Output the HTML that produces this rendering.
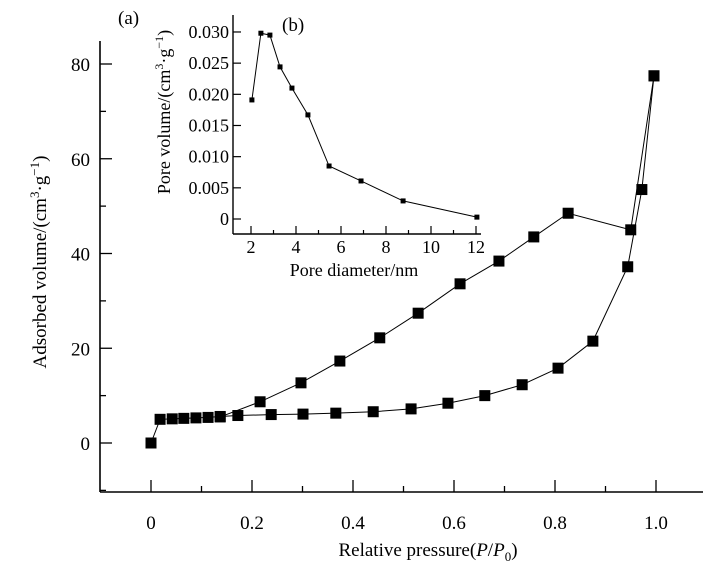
<!DOCTYPE html>
<html><head><meta charset="utf-8"><style>
body{margin:0;background:#fff}
svg{display:block;font-family:"Liberation Serif",serif}
</style></head><body>
<svg id="c" width="713" height="569"></svg>
<script>
const adsP=[0,0.018,0.042,0.065,0.089,0.113,0.137,0.172,0.238,0.301,0.366,0.44,0.515,0.588,0.661,0.735,0.806,0.875,0.944,0.972,0.996];
const adsV=[0,5.0,5.1,5.2,5.3,5.4,5.6,5.8,6.0,6.1,6.3,6.6,7.2,8.4,10,12.3,15.8,21.5,37.2,53.5,77.5];
const desP=[0.996,0.95,0.826,0.758,0.689,0.612,0.529,0.453,0.374,0.297,0.216,0.137];
const desV=[77.5,45.0,48.5,43.5,38.4,33.6,27.4,22.2,17.3,12.7,8.7,5.5];
const xTicks=[0,0.2,0.4,0.6,0.8,1.0];
const xTickLabels=["0","0.2","0.4","0.6","0.8","1.0"];
const yTicks=[0,20,40,60,80];
const poreD=[2.04,2.44,2.84,3.29,3.82,4.53,5.47,6.89,8.76,12.04];
const poreV=[0.0191,0.0298,0.0295,0.0244,0.0210,0.0167,0.0085,0.0061,0.0029,0.0003];
const ixTicks=[2,4,6,8,10,12];
const iyTicks=[0,0.005,0.010,0.015,0.020,0.025,0.030];
const iyTickLabels=["0","0.005","0.010","0.015","0.020","0.025","0.030"];

const svg=document.getElementById('c');
const NS='http://www.w3.org/2000/svg';
function mk(tag,attrs,parent){const e=document.createElementNS(NS,tag);for(const k in attrs)e.setAttribute(k,attrs[k]);(parent||svg).appendChild(e);return e;}
const X=p=>151+p*505, Y=v=>443-v*4.7375;
const IX=d=>251+(d-2)*22.5, IY=v=>219-v/0.005*31.17;

// main axes
let a=mk('line',{x1:100,y1:41,x2:100,y2:492,stroke:'#000','stroke-width':1.6});

a=mk('line',{x1:100,y1:492,x2:703,y2:492,stroke:'#000','stroke-width':1.6});

for(let i=0;i<=11;i++){const p=i*0.1-0.1;const x=X(p);if(x<101)continue;mk('line',{x1:x,y1:492,x2:x,y2:i%2==1?480:486,stroke:'#000','stroke-width':1.3});}
xTicks.forEach((t,i)=>{const e=mk('text',{x:X(t),y:529,'text-anchor':'middle','font-size':19});e.textContent=xTickLabels[i];
});
for(let v=-10;v<=80;v+=10){const y=Y(v);mk('line',{x1:100,y1:y,x2:v%20==0?112:106,y2:y,stroke:'#000','stroke-width':1.3});}
yTicks.forEach(t=>{const e=mk('text',{x:90,y:Y(t)+7,'text-anchor':'end','font-size':19});e.textContent=t;
});
let t=mk('text',{x:428,y:556,'text-anchor':'middle','font-size':19});
t.innerHTML='Relative pressure(<tspan font-style="italic">P</tspan>/<tspan font-style="italic">P</tspan><tspan font-size="13" dy="5">0</tspan><tspan dy="-5">)</tspan>';

t=mk('text',{transform:'translate(46,262) rotate(-90)','text-anchor':'middle','font-size':19});
t.innerHTML='Adsorbed volume/(cm<tspan font-size="13" dy="-7">3</tspan><tspan dy="7">·g</tspan><tspan font-size="13" dy="-7">−1</tspan><tspan dy="7">)</tspan>';

t=mk('text',{x:118,y:24,'font-size':19});t.textContent='(a)';


function series(P,V,fx,fy,size,name){
  const l=mk('polyline',{points:P.map((p,i)=>fx(p)+','+fy(V[i])).join(' '),fill:'none',stroke:'#000','stroke-width':1});
  
  P.forEach((p,i)=>{const r=mk('rect',{x:fx(p)-size/2,y:fy(V[i])-size/2,width:size,height:size,fill:'#000'});
  });
}
series(adsP,adsV,X,Y,11,'adsorption');
series(desP,desV,X,Y,11,'desorption');

// inset
a=mk('line',{x1:233,y1:15,x2:233,y2:234,stroke:'#000','stroke-width':1.4});

a=mk('line',{x1:233,y1:234,x2:481,y2:234,stroke:'#000','stroke-width':1.4});

ixTicks.forEach(d=>{mk('line',{x1:IX(d),y1:234,x2:IX(d),y2:226,stroke:'#000','stroke-width':1.2});
const e=mk('text',{x:IX(d),y:253,'text-anchor':'middle','font-size':18});e.textContent=d;
});
[3,5,7,9,11].forEach(d=>mk('line',{x1:IX(d),y1:234,x2:IX(d),y2:230,stroke:'#000','stroke-width':1.2}));
iyTicks.forEach((v,i)=>{mk('line',{x1:233,y1:IY(v),x2:241,y2:IY(v),stroke:'#000','stroke-width':1.2});
const e=mk('text',{x:229,y:IY(v)+6,'text-anchor':'end','font-size':18});e.textContent=iyTickLabels[i];
});
t=mk('text',{x:354,y:276,'text-anchor':'middle','font-size':18});t.textContent='Pore diameter/nm';

t=mk('text',{transform:'translate(170,112) rotate(-90)','text-anchor':'middle','font-size':18});
t.innerHTML='Pore volume/(cm<tspan font-size="12" dy="-7">3</tspan><tspan dy="7">·g</tspan><tspan font-size="12" dy="-7">−1</tspan><tspan dy="7">)</tspan>';

t=mk('text',{x:282,y:31,'font-size':19});t.textContent='(b)';

series(poreD,poreV,IX,IY,5,'pore-distribution');
</script>
</body></html>
